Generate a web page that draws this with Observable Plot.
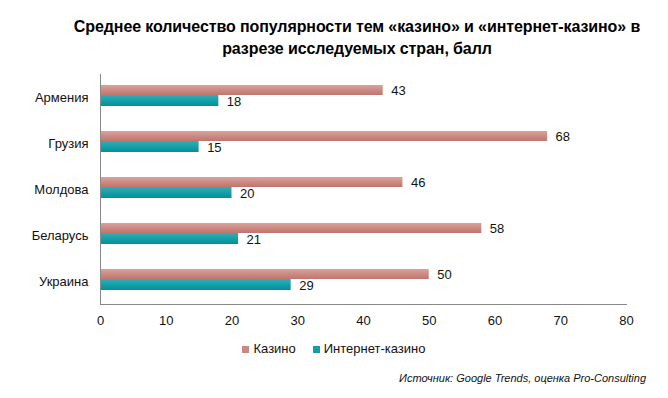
<!DOCTYPE html>
<html><head><meta charset="utf-8">
<script src="https://cdn.jsdelivr.net/npm/d3@7"></script>
<script src="https://cdn.jsdelivr.net/npm/@observablehq/plot@0.6"></script>
<style>
body{margin:0;background:#fff;font-family:"Liberation Sans",Arial,sans-serif;width:668px;height:398px;overflow:hidden;}
#title{font-weight:bold;font-size:16px;line-height:22px;text-align:center;padding-top:16px;height:46px;padding-left:46px;color:#000;letter-spacing:-0.1px;}
#legend{display:flex;justify-content:center;align-items:center;gap:17px;font-size:13px;color:#111;height:28px;margin-top:0px;padding-left:0px;}
#legend span.sw{display:inline-block;width:7px;height:7px;margin-right:4px;}
#caption{text-align:right;font-style:italic;font-size:11px;padding-right:22px;margin-top:10px;color:#111;}
</style></head>
<body>
<div id="title">Среднее количество популярности тем «казино» и «интернет-казино» в<br>разрезе исследуемых стран, балл</div>
<div id="chart"></div>
<div id="legend"></div>
<div id="caption">Источник: Google Trends, оценка Pro-Consulting</div>
<script>
const countries = ["Армения","Грузия","Молдова","Беларусь","Украина"];
const casino = [43,68,46,58,50];
const online = [18,15,20,21,29];
const seriesNames = ["Казино","Интернет-казино"];
const seriesColors = ["#c98a83","#1a9aa4"];
const xTicks = [0,10,20,30,40,50,60,70,80];

const casinoData = countries.map((c,i)=>({country:c, value:casino[i]}));
const onlineData = countries.map((c,i)=>({country:c, value:online[i]}));

const chart = Plot.plot({
  width:668, height:272,
  marginLeft:100, marginRight:42, marginTop:12, marginBottom:30,
  style:{fontFamily:"Liberation Sans, Arial, sans-serif", fontSize:"13px", color:"#111", background:"#fff"},
  x:{domain:[0,80], ticks:xTicks, label:null, tickSize:0, tickPadding:11},
  y:{domain:countries, padding:0, label:null, tickSize:0, tickPadding:12},
  marks:[
    Plot.barX(casinoData,{x:"value", y:"country", fill:"url(#gradCasino)", insetTop:11, insetBottom:25}),
    Plot.barX(onlineData,{x:"value", y:"country", fill:"url(#gradOnline)", insetTop:21, insetBottom:14}),
    Plot.text(casinoData,{x:"value", y:"country", text:d=>String(d.value), dx:8, dy:-7, textAnchor:"start", fill:"#111", fontSize:13}),
    Plot.text(onlineData,{x:"value", y:"country", text:d=>String(d.value), dx:8, dy:4, textAnchor:"start", fill:"#111", fontSize:13}),
    Plot.frame({anchor:"left", stroke:"#888"}),
    Plot.frame({anchor:"bottom", stroke:"#888"})
  ]
});
const ns="http://www.w3.org/2000/svg";
const defs=document.createElementNS(ns,"defs");
defs.innerHTML=`<linearGradient id="gradCasino" x1="0" y1="0" x2="0" y2="1">
<stop offset="0" stop-color="#d9a29b"/><stop offset="1" stop-color="#bf746c"/></linearGradient>
<linearGradient id="gradOnline" x1="0" y1="0" x2="0" y2="1">
<stop offset="0" stop-color="#30aeb5"/><stop offset="1" stop-color="#00909c"/></linearGradient>`;
chart.insertBefore(defs, chart.firstChild);
document.getElementById("chart").appendChild(chart);

const legend=document.getElementById("legend");
seriesNames.forEach((n,i)=>{
  const d=document.createElement("div");
  d.innerHTML=`<span class="sw" style="background:${seriesColors[i]}"></span>${n}`;
  legend.appendChild(d);
});
</script>
</body></html>
